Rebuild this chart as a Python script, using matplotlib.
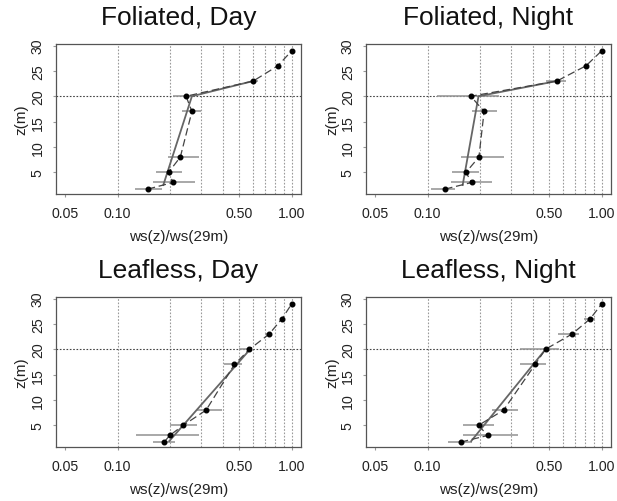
import numpy as np
import matplotlib
matplotlib.use("Agg")
import matplotlib.pyplot as plt

plt.rcParams['font.family'] = ['Liberation Sans', 'DejaVu Sans']

# alturas de medida (m)
alturas = [1.7, 3, 5, 8, 17, 20, 23, 26, 29]

titulos = ["Foliated, Day", "Foliated, Night", "Leafless, Day", "Leafless, Night"]

# ws(z)/ws(29m) medido
ratio_fd = [0.149, 0.208, 0.196, 0.229, 0.267, 0.247, 0.60, 0.83, 1.0]
ratio_fn = [0.126, 0.179, 0.166, 0.197, 0.211, 0.177, 0.552, 0.81, 1.0]
ratio_ld = [0.185, 0.199, 0.238, 0.322, 0.468, 0.571, 0.741, 0.876, 1.0]
ratio_ln = [0.155, 0.221, 0.196, 0.273, 0.414, 0.475, 0.674, 0.856, 1.0]

# barras de error (min, max)
lo_fd = [0.126, 0.160, 0.166, 0.195, 0.235, 0.209, 0.589, 0.83, 1.0]
hi_fd = [0.179, 0.279, 0.233, 0.293, 0.301, 0.266, 0.643, 0.83, 1.0]
lo_fn = [0.105, 0.136, 0.139, 0.155, 0.179, 0.113, 0.475, 0.81, 1.0]
hi_fn = [0.144, 0.234, 0.196, 0.276, 0.250, 0.256, 0.620, 0.81, 1.0]
lo_ld = [0.160, 0.128, 0.200, 0.284, 0.409, 0.494, 0.700, 0.876, 1.0]
hi_ld = [0.213, 0.293, 0.287, 0.396, 0.516, 0.589, 0.760, 0.876, 1.0]
lo_ln = [0.131, 0.160, 0.160, 0.234, 0.341, 0.341, 0.562, 0.784, 1.0]
hi_ln = [0.179, 0.330, 0.242, 0.330, 0.479, 0.567, 0.740, 0.911, 1.0]

# perfil ajustado (linea continua)
ajuste_z_fol = [2.5, 20, 23]
ajuste_fd = [0.183, 0.267, 0.60]
ajuste_fn = [0.159, 0.196, 0.552]
ajuste_z_leaf = [1.9, 20]
ajuste_ld = [0.198, 0.576]
ajuste_ln = [0.178, 0.475]

paneles = [
    (ratio_fd, lo_fd, hi_fd, ajuste_z_fol, ajuste_fd),
    (ratio_fn, lo_fn, hi_fn, ajuste_z_fol, ajuste_fn),
    (ratio_ld, lo_ld, hi_ld, ajuste_z_leaf, ajuste_ld),
    (ratio_ln, lo_ln, hi_ln, ajuste_z_leaf, ajuste_ln),
]

W, H = 617, 502
fig = plt.figure(figsize=(W / 100, H / 100), dpi=100)

# cajas en pixeles: (izq, arriba, ancho, alto)
cajas = [(56, 45, 245, 150), (366, 45, 245, 150),
         (56, 298, 245, 150), (366, 298, 245, 150)]

for i, (caja, datos) in enumerate(zip(cajas, paneles)):
    x0, y0, w, h = caja
    ax = fig.add_axes([x0 / W, 1 - (y0 + h) / H, w / W, h / H])
    ratio, lo, hi, fz, fv = datos

    ax.set_xscale('log')
    ax.set_xlim(10 ** -1.353, 10 ** 0.052)
    ax.set_ylim(0.73, 30.3)

    for v in np.arange(0.1, 1.01, 0.1):
        ax.axvline(v, color='#9a9a9a', lw=0.8, ls=(0, (1.5, 1.5)), zorder=1)
    ax.axhline(20, color='#444444', lw=0.8, ls=(0, (1.5, 1.5)), zorder=1)

    ax.hlines(alturas, lo, hi, color='#9a9a9a', lw=1.2, zorder=2)
    ax.plot(fv, fz, color='#666666', lw=1.3, zorder=3)
    ax.plot(ratio, alturas, color='#444444', lw=0.9, ls=(0, (6, 3)), zorder=4)
    ax.plot(ratio, alturas, 'o', color='black', ms=3.3, zorder=5)

    ax.set_xticks([0.05, 0.1, 0.5, 1.0])
    ax.set_xticklabels(["0.05", "0.10", "0.50", "1.00"])
    ax.xaxis.set_minor_locator(matplotlib.ticker.NullLocator())
    ax.set_yticks([5, 10, 15, 20, 25, 30])
    ax.set_yticklabels(["5", "10", "15", "20", "25", "30"], rotation=90, va='center')
    ax.tick_params(axis='both', length=2, color='#999999', labelsize=10.2,
                   labelcolor='#222222')
    ax.tick_params(axis='x', pad=6.5)
    ax.tick_params(axis='y', pad=6)
    for s in ax.spines.values():
        s.set_color('#555555')
        s.set_linewidth(0.9)

    ax.set_xlabel("ws(z)/ws(29m)", fontsize=11, color='#222222', va='center')
    ax.xaxis.set_label_coords(0.5, -(236.7 - 195) / 150)
    ax.set_ylabel("z(m)", fontsize=11, color='#222222', va='center')
    ax.yaxis.set_label_coords(-(x0 - 21.7) / w if i % 2 == 0 else -(x0 - 332) / w, 0.5)

    ax.text(0.5, 1 + 27 / 150, titulos[i], transform=ax.transAxes,
            ha='center', va='center', fontsize=19, color='#111111')

fig.savefig("out.png", dpi=100)
